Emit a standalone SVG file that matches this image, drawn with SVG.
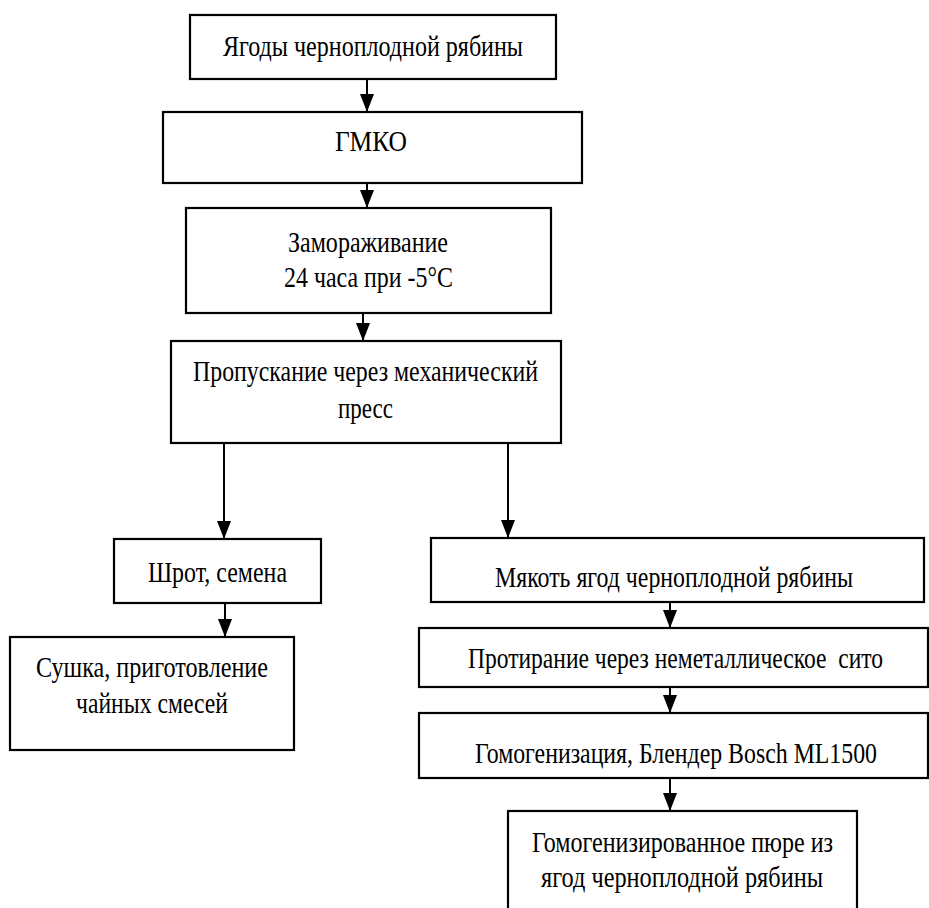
<svg xmlns="http://www.w3.org/2000/svg" width="929" height="908" viewBox="0 0 929 908">
<style>
.box{fill:#fff;stroke:#000;stroke-width:2.2}
.t{font-family:'Liberation Serif','Times New Roman',serif;font-size:29px;fill:#000}
.c{stroke:#000;stroke-width:2;fill:none}
</style>
<defs>
<marker id="ah" viewBox="0 0 18 14" refX="18" refY="7" markerWidth="18" markerHeight="14" markerUnits="userSpaceOnUse" orient="auto">
<path d="M0,0 L18,7 L0,14 z" fill="#000"/>
</marker>
</defs>
<rect width="929" height="908" fill="#fff"/>
<g id="connectors">
<line class="c" x1="367" y1="79" x2="367" y2="112" marker-end="url(#ah)"/>
<line class="c" x1="367" y1="183" x2="367" y2="208" marker-end="url(#ah)"/>
<line class="c" x1="363" y1="313" x2="363" y2="341" marker-end="url(#ah)"/>
<line class="c" x1="224" y1="443" x2="224" y2="539" marker-end="url(#ah)"/>
<line class="c" x1="508" y1="443" x2="508" y2="538" marker-end="url(#ah)"/>
<line class="c" x1="225" y1="603" x2="225" y2="637" marker-end="url(#ah)"/>
<line class="c" x1="670" y1="602" x2="670" y2="628" marker-end="url(#ah)"/>
<line class="c" x1="670" y1="687" x2="670" y2="713" marker-end="url(#ah)"/>
<line class="c" x1="670" y1="778" x2="670" y2="811" marker-end="url(#ah)"/>
</g>
<g id="n1"><rect class="box" x="190" y="15" width="366" height="64"/>
<text class="t" x="223" y="56" textLength="300" lengthAdjust="spacingAndGlyphs">Ягоды черноплодной рябины</text></g>
<g id="n2"><rect class="box" x="163" y="112" width="419" height="71"/>
<text class="t" x="335" y="151" textLength="72" lengthAdjust="spacingAndGlyphs">ГМКО</text></g>
<g id="n3"><rect class="box" x="186" y="208" width="365" height="105"/>
<text class="t" x="288" y="252" textLength="160" lengthAdjust="spacingAndGlyphs">Замораживание</text>
<text class="t" x="284" y="287" textLength="169" lengthAdjust="spacingAndGlyphs">24 часа при -5°C</text></g>
<g id="n4"><rect class="box" x="171" y="341" width="390" height="102"/>
<text class="t" x="193" y="381" textLength="345" lengthAdjust="spacingAndGlyphs">Пропускание через механический</text>
<text class="t" x="338" y="418" textLength="55" lengthAdjust="spacingAndGlyphs">пресс</text></g>
<g id="n5"><rect class="box" x="114" y="539" width="207" height="64"/>
<text class="t" x="148" y="582" textLength="139" lengthAdjust="spacingAndGlyphs">Шрот, семена</text></g>
<g id="n6"><rect class="box" x="10" y="637" width="284" height="113"/>
<text class="t" x="36" y="677" textLength="232" lengthAdjust="spacingAndGlyphs">Сушка, приготовление</text>
<text class="t" x="76" y="713" textLength="152" lengthAdjust="spacingAndGlyphs">чайных смесей</text></g>
<g id="n7"><rect class="box" x="431" y="538" width="493" height="64"/>
<text class="t" x="495" y="587" textLength="358" lengthAdjust="spacingAndGlyphs">Мякоть ягод черноплодной рябины</text></g>
<g id="n8"><rect class="box" x="419" y="628" width="509" height="59"/>
<text class="t" x="468" y="668" textLength="415" lengthAdjust="spacingAndGlyphs">Протирание через неметаллическое&#160; сито</text></g>
<g id="n9"><rect class="box" x="419" y="713" width="509" height="65"/>
<text class="t" x="475" y="763" textLength="402" lengthAdjust="spacingAndGlyphs">Гомогенизация, Блендер Bosch ML1500</text></g>
<g id="n10"><rect class="box" x="508" y="811" width="349" height="110"/>
<text class="t" x="532" y="852" textLength="301" lengthAdjust="spacingAndGlyphs">Гомогенизированное пюре из</text>
<text class="t" x="541" y="887" textLength="282" lengthAdjust="spacingAndGlyphs">ягод черноплодной рябины</text></g>
</svg>
